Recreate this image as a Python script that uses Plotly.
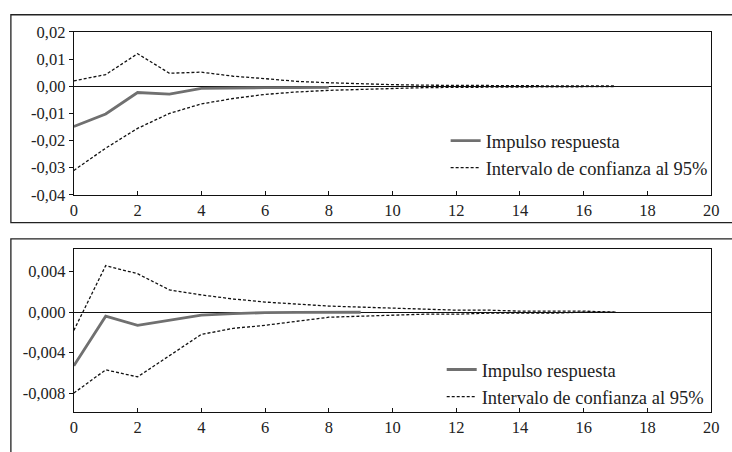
import plotly.graph_objects as go

# horizonte (periodos)
periods_ci = list(range(0, 18))
periods_ir_top = list(range(0, 9))
periods_ir_bot = list(range(0, 10))

# panel superior
ir_top = [-0.0148, -0.0102, -0.0023, -0.0029, -0.0008, -0.0006, -0.0005, -0.0005, -0.0004]
upper_top = [0.0020, 0.0043, 0.0120, 0.0048, 0.0052, 0.0037, 0.0028, 0.0018, 0.0013,
             0.0009, 0.0006, 0.0004, 0.0003, 0.0002, 0.0002, 0.0001, 0.0001, 0.0001]
lower_top = [-0.0310, -0.0228, -0.0155, -0.0100, -0.0065, -0.0045, -0.0030, -0.0021, -0.0015,
             -0.0011, -0.0008, -0.0005, -0.0004, -0.0003, -0.0002, -0.0002, -0.0001, -0.0001]

# panel inferior
ir_bot = [-0.0053, -0.0004, -0.0013, -0.0008, -0.0003, -0.00015, -0.00005, -0.00003, -0.00002, -0.00001]
upper_bot = [-0.0018, 0.0046, 0.0038, 0.0022, 0.0017, 0.0013, 0.0010, 0.0008, 0.0006,
             0.0005, 0.0004, 0.0003, 0.0002, 0.0002, 0.0001, 0.0001, 0.0001, 0.0000]
lower_bot = [-0.0080, -0.0057, -0.0064, -0.0043, -0.0022, -0.0016, -0.0013, -0.0009, -0.0005,
             -0.0004, -0.0003, -0.0002, -0.0002, -0.0001, -0.0001, -0.0001, 0.0000, 0.0000]

x_ticks = list(range(0, 21, 2))
y_top_ticks = [0.02, 0.01, 0.0, -0.01, -0.02, -0.03, -0.04]
y_top_labels = ["0,02", "0,01", "0,00", "-0,01", "-0,02", "-0,03", "-0,04"]
y_bot_ticks = [0.004, 0.0, -0.004, -0.008]
y_bot_labels = ["0,004", "0,000", "-0,004", "-0,008"]

name_ir = "Impulso respuesta"
name_ci = "Intervalo de confianza al 95%"

W, H = 732, 452
FONT = "Liberation Serif"
gray = "#707070"
dot = dict(color="#111", width=1.3, dash="3px,2px")

fig = go.Figure()

# superior
fig.add_trace(go.Scatter(x=periods_ir_top, y=ir_top, mode="lines", name=name_ir,
                         line=dict(color=gray, width=2.8), legend="legend",
                         xaxis="x", yaxis="y"))
fig.add_trace(go.Scatter(x=periods_ci, y=upper_top, mode="lines", name=name_ci,
                         line=dot, legend="legend", legendgroup="ci1",
                         xaxis="x", yaxis="y"))
fig.add_trace(go.Scatter(x=periods_ci, y=lower_top, mode="lines", name=name_ci,
                         line=dot, legendgroup="ci1", showlegend=False,
                         xaxis="x", yaxis="y"))

# inferior
fig.add_trace(go.Scatter(x=periods_ir_bot, y=ir_bot, mode="lines", name=name_ir,
                         line=dict(color=gray, width=2.8), legend="legend2",
                         xaxis="x2", yaxis="y2"))
fig.add_trace(go.Scatter(x=periods_ci, y=upper_bot, mode="lines", name=name_ci,
                         line=dot, legend="legend2", legendgroup="ci2",
                         xaxis="x2", yaxis="y2"))
fig.add_trace(go.Scatter(x=periods_ci, y=lower_bot, mode="lines", name=name_ci,
                         line=dot, legendgroup="ci2", showlegend=False,
                         xaxis="x2", yaxis="y2"))

xdom = [71 / W, 719 / W]
axis_common = dict(showline=True, mirror=True, linecolor="#111", linewidth=1.3,
                   showgrid=False, ticks="outside", ticklen=4, tickcolor="#111",
                   tickfont=dict(family=FONT, size=16.5, color="#222"))
xaxis_common = dict(axis_common, range=[0, 20], tickvals=x_ticks, ticks="inside",
                    zeroline=False)

fig.update_layout(
    width=W, height=H,
    margin=dict(l=0, r=0, t=0, b=0),
    paper_bgcolor="white", plot_bgcolor="white",
    font=dict(family=FONT, size=16, color="#222"),
    xaxis=dict(xaxis_common, domain=xdom, anchor="y"),
    yaxis=dict(axis_common, domain=[1 - 194 / H, 1 - 24 / H], anchor="x",
               range=[-0.04, 0.02], tickvals=y_top_ticks, ticktext=y_top_labels,
               zeroline=True, zerolinecolor="#111", zerolinewidth=1.3),
    xaxis2=dict(xaxis_common, domain=xdom, anchor="y2"),
    yaxis2=dict(axis_common, domain=[1 - 421 / H, 1 - 251 / H], anchor="x2",
                range=[-0.0099, 0.0062], tickvals=y_bot_ticks, ticktext=y_bot_labels,
                zeroline=True, zerolinecolor="#111", zerolinewidth=1.3),
    legend=dict(x=449 / W, y=1 - 118 / H, xanchor="left", yanchor="top",
                bgcolor="rgba(0,0,0,0)", font=dict(family=FONT, size=18.5, color="#222"),
                tracegroupgap=0),
    legend2=dict(x=445 / W, y=1 - 357 / H, xanchor="left", yanchor="top",
                 bgcolor="rgba(0,0,0,0)", font=dict(family=FONT, size=18.5, color="#222"),
                 tracegroupgap=0),
    showlegend=True,
)

# marcos exteriores de cada panel
frame = dict(color="#222", width=1.3)
fig.add_shape(type="rect", xref="paper", yref="paper",
              x0=7 / W, x1=1.02, y0=1 - 223 / H, y1=1 - 6 / H, line=frame, layer="below")
fig.add_shape(type="rect", xref="paper", yref="paper",
              x0=7 / W, x1=1.02, y0=-0.05, y1=1 - 240 / H, line=frame, layer="below")

fig.write_html("out.html", config={"displayModeBar": False},
               post_script="document.body.style.margin='0';document.body.style.overflow='hidden';")
